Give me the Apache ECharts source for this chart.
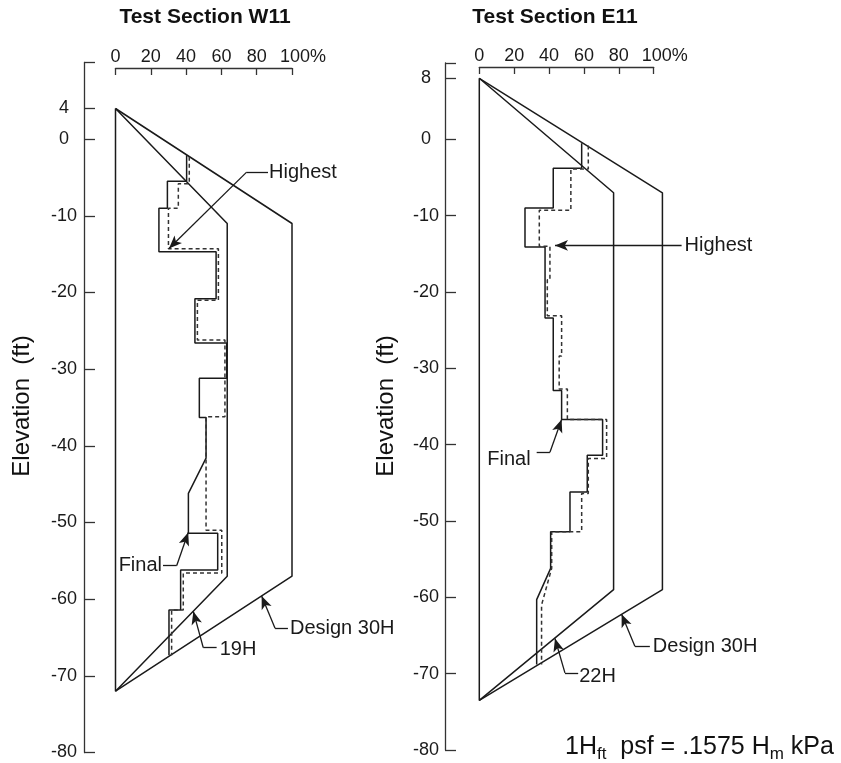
<!DOCTYPE html>
<html>
<head>
<meta charset="utf-8">
<script src="https://cdn.jsdelivr.net/npm/echarts@6/dist/echarts.min.js"></script>
<style>
  html, body { margin: 0; padding: 0; background: #ffffff; }
  #chart { width: 841px; height: 763px; }
</style>
</head>
<body>
<div id="chart"></div>
<script>
// Horizontal axis: percent of design earth pressure
const pctTicks = [0, 20, 40, 60, 80, 100];
// Elevation tick labels (ft) for each section
const elevLabelsW11 = [4, 0, -10, -20, -30, -40, -50, -60, -70, -80];
const elevLabelsE11 = [8, 0, -10, -20, -30, -40, -50, -60, -70, -80];
const elevTicksW11 = [10, 4, 0, -10, -20, -30, -40, -50, -60, -70, -80];
const elevTicksE11 = [10, 8, 0, -10, -20, -30, -40, -50, -60, -70, -80];

// Pressure envelopes, [percent, elevation ft]
const w11Design30H = [[0, 4], [100, -11], [100, -57], [0, -72], [0, 4]];
const w11Env19H    = [[0, 4], [63.3, -11], [63.3, -57], [0, -72]];
const e11Design30H = [[0, 8], [105, -7], [105, -59], [0, -73.5], [0, 8]];
const e11Env22H    = [[0, 8], [77, -7], [77, -59], [0, -73.5]];

// Measured load distributions, Test Section W11
const w11Final = [
  [40.3, -2.1], [40.3, -5.5], [29.4, -5.5], [29.4, -9.0], [24.6, -9.0], [24.6, -14.7],
  [57, -14.7], [57, -20.8], [45, -20.8], [45, -26.6], [63, -26.6], [63, -31.2],
  [47.5, -31.2], [47.5, -36.3], [51.3, -36.3], [51.3, -41.6], [41.3, -46.2], [41.3, -51.4],
  [57.9, -51.4], [57.9, -56.2], [36.9, -56.2], [36.9, -61.4], [30.3, -61.4], [30.3, -67.3]
];
const w11Highest = [
  [41.8, -2.3], [41.8, -5.8], [35.6, -5.8], [35.6, -9.0], [30, -9.0], [30, -14.3],
  [58.3, -14.3], [58.3, -21], [46.4, -21], [46.4, -26.2], [62, -26.2], [62, -36.2],
  [51.3, -36.2], [51.3, -51], [60.2, -51], [60.2, -56.6], [38.4, -56.6], [38.4, -61.4],
  [31.8, -61.4], [31.8, -67.3]
];

// Measured load distributions, Test Section E11
const e11Final = [
  [58.7, -0.5], [58.7, -3.8], [42.4, -3.8], [42.4, -9.0], [26.2, -9.0], [26.2, -14.1],
  [37.7, -14.1], [37.7, -23.4], [42.4, -23.4], [42.4, -32.9], [47.2, -32.9], [47.2, -36.7],
  [70.7, -36.7], [70.7, -41.4], [61.9, -41.4], [61.9, -46.2], [52, -46.2], [52, -51.4],
  [40.9, -51.4], [40.9, -56.2], [32.9, -60.3], [32.9, -68.8]
];
const e11Highest = [
  [62.5, -0.8], [62.5, -3.9], [52.5, -3.9], [52.5, -9.3], [34.4, -9.3], [34.4, -14.0],
  [40.5, -14.0], [40.5, -18.4], [39, -18.4], [39, -23.1], [47.2, -23.1], [47.2, -28.4],
  [45.8, -28.4], [45.8, -32.7], [50.5, -32.7], [50.5, -36.7], [73, -36.7], [73, -41.8],
  [62.5, -41.8], [62.5, -46.4], [58.7, -46.4], [58.7, -51.4], [41.5, -51.4], [41.5, -56.2],
  [35.7, -61], [35.7, -68.8]
];

// Callout leaders: text anchor -> bend -> arrow tip
const w11Leaders = [
  [[86.4, -4.3], [74.3, -4.3], [30.3, -14.25]],
  [[26.9, -55.6], [34.7, -55.6], [41.2, -51.3]],
  [[57.3, -66.3], [49.7, -66.3], [44.1, -61.6]],
  [[97.7, -63.8], [90.4, -63.8], [82.8, -59.6]]
];
const e11Leaders = [
  [[116, -13.9], [43.4, -13.9]],
  [[32.9, -41.0], [40.5, -41.0], [47.2, -36.7]],
  [[56.7, -69.9], [49.1, -69.9], [43.4, -65.4]],
  [[97.8, -66.4], [89.2, -66.4], [81.6, -62.2]]
];
// Callout texts: [percent, elevation, text, side, gap]
const w11Notes = [
  [86.4, -4.3, 'Highest', 'right', 1],
  [26.9, -55.6, 'Final', 'left', 1],
  [57.3, -66.6, '19H', 'right', 3],
  [97.7, -63.8, 'Design 30H', 'right', 2]
];
const e11Notes = [
  [116, -13.9, 'Highest', 'right', 3],
  [32.9, -42.0, 'Final', 'left', 6],
  [56.7, -70.4, '22H', 'right', 1],
  [97.8, -66.5, 'Design 30H', 'right', 3]
];

const FONT = "'Liberation Sans', Arial, Helvetica, sans-serif";
const INK = '#1a1a1a';

// Panel geometry (pixels per 100 %)
const W11_SPAN = 176.5;
const E11_SPAN = 174.4;
const E11_DATA_MAX = 120;

const chart = echarts.init(document.getElementById('chart'), null, { renderer: 'canvas' });

function xAxisFor(gridIndex, offset) {
  return {
    gridIndex, type: 'value', position: 'top', min: 0, max: 100, interval: 20, offset,
    axisLine: { show: true, onZero: false, lineStyle: { color: '#333', width: 1.3 } },
    axisTick: { show: true, inside: true, length: 7, lineStyle: { color: '#333', width: 1.3 } },
    axisLabel: {
      fontSize: 18, color: INK, fontFamily: FONT, margin: 2,
      formatter: v => (v === 100 ? '{p|100%}' : String(v)),
      rich: { p: { fontSize: 18, color: INK, fontFamily: FONT, padding: [0, 0, 0, 22] } }
    },
    splitLine: { show: false }
  };
}
function yAxisFor(gridIndex, offset, ticks, labels, margin) {
  return {
    gridIndex, type: 'value', min: -80, max: 10, offset,
    axisLine: { show: true, onZero: false, lineStyle: { color: '#333', width: 1.3 } },
    axisTick: { show: true, inside: true, length: 11, customValues: ticks, lineStyle: { color: '#333', width: 1.3 } },
    axisLabel: { fontSize: 18, color: INK, fontFamily: FONT, margin, align: 'center', customValues: labels },
    splitLine: { show: false }
  };
}
function hiddenAxis(gridIndex, min, max) {
  return { gridIndex, type: 'value', min, max, show: false, splitLine: { show: false } };
}
function lineSeries(idx, data, dashed) {
  return {
    type: 'line', xAxisIndex: idx, yAxisIndex: idx, data,
    showSymbol: false, symbol: 'none', clip: false, silent: true,
    lineStyle: { color: dashed ? '#333' : INK, width: 1.5, type: dashed ? [4, 3] : 'solid' }
  };
}
function leaderLines(leaders) {
  const out = [];
  leaders.forEach(pts => {
    for (let i = 0; i < pts.length - 1; i++) {
      const last = i === pts.length - 2;
      out.push([
        { coord: pts[i], symbol: 'none' },
        { coord: pts[i + 1], symbol: last ? 'arrow' : 'none', symbolSize: [8, 13] }
      ]);
    }
  });
  return out;
}
function noteSeries(idx, notes, leaders) {
  return {
    type: 'scatter', xAxisIndex: idx, yAxisIndex: idx, clip: false, silent: true,
    symbolSize: 0, itemStyle: { opacity: 1 },
    data: notes.map(n => ({
      value: [n[0], n[1]], name: n[2],
      label: { show: true, position: n[3], distance: n[4], formatter: n[2],
               fontSize: 20, color: INK, fontFamily: FONT, opacity: 1 }
    })),
    markLine: {
      silent: true, animation: false, symbol: ['none', 'none'],
      label: { show: false },
      lineStyle: { color: INK, width: 1.3, type: 'solid', opacity: 1 },
      itemStyle: { color: INK, opacity: 1 },
      data: leaderLines(leaders)
    }
  };
}

const option = {
  animation: false,
  backgroundColor: '#ffffff',
  grid: [
    // W11 panel
    { left: 115.5, top: 62.5, width: W11_SPAN, height: 690 },
    // E11 axes frame (0-100 %)
    { left: 479.3, top: 63, width: E11_SPAN, height: 687 },
    // E11 plotting area, same scale, extended so the 30H envelope and callouts fit
    { left: 479.3, top: 63, width: E11_SPAN * E11_DATA_MAX / 100, height: 687 }
  ],
  xAxis: [xAxisFor(0, -5.5), xAxisFor(1, -4), hiddenAxis(2, 0, E11_DATA_MAX)],
  yAxis: [
    yAxisFor(0, 31.5, elevTicksW11, elevLabelsW11, 20),
    yAxisFor(1, 34.3, elevTicksE11, elevLabelsE11, 19),
    hiddenAxis(2, -80, 10)
  ],
  series: [
    lineSeries(0, w11Design30H, false),
    lineSeries(0, w11Env19H, false),
    lineSeries(0, w11Final, false),
    lineSeries(0, w11Highest, true),
    noteSeries(0, w11Notes, w11Leaders),
    lineSeries(2, e11Design30H, false),
    lineSeries(2, e11Env22H, false),
    lineSeries(2, e11Final, false),
    lineSeries(2, e11Highest, true),
    noteSeries(2, e11Notes, e11Leaders)
  ],
  graphic: [
    { type: 'text', x: 205, y: 17, style: { text: 'Test Section W11', font: 'bold 21px ' + FONT, fill: '#111', textAlign: 'center', textVerticalAlign: 'middle' } },
    { type: 'text', x: 555, y: 17, style: { text: 'Test Section E11', font: 'bold 21px ' + FONT, fill: '#111', textAlign: 'center', textVerticalAlign: 'middle' } },
    { type: 'text', x: 22, y: 406, rotation: Math.PI / 2, style: { text: 'Elevation  (ft)', font: '24px ' + FONT, fill: '#111', textAlign: 'center', textVerticalAlign: 'middle' } },
    { type: 'text', x: 386, y: 406, rotation: Math.PI / 2, style: { text: 'Elevation  (ft)', font: '24px ' + FONT, fill: '#111', textAlign: 'center', textVerticalAlign: 'middle' } },
    { type: 'text', x: 565, y: 747,
      style: {
        text: '1H{s|ft}  psf = .1575 H{s|m} kPa',
        font: '25px ' + FONT, fill: '#111', textVerticalAlign: 'middle', lineHeight: 32,
        rich: { s: { fontSize: 17, fontFamily: FONT, fill: '#111', lineHeight: 16, verticalAlign: 'bottom' } }
      } }
  ]
};
chart.setOption(option);
</script>
</body>
</html>
